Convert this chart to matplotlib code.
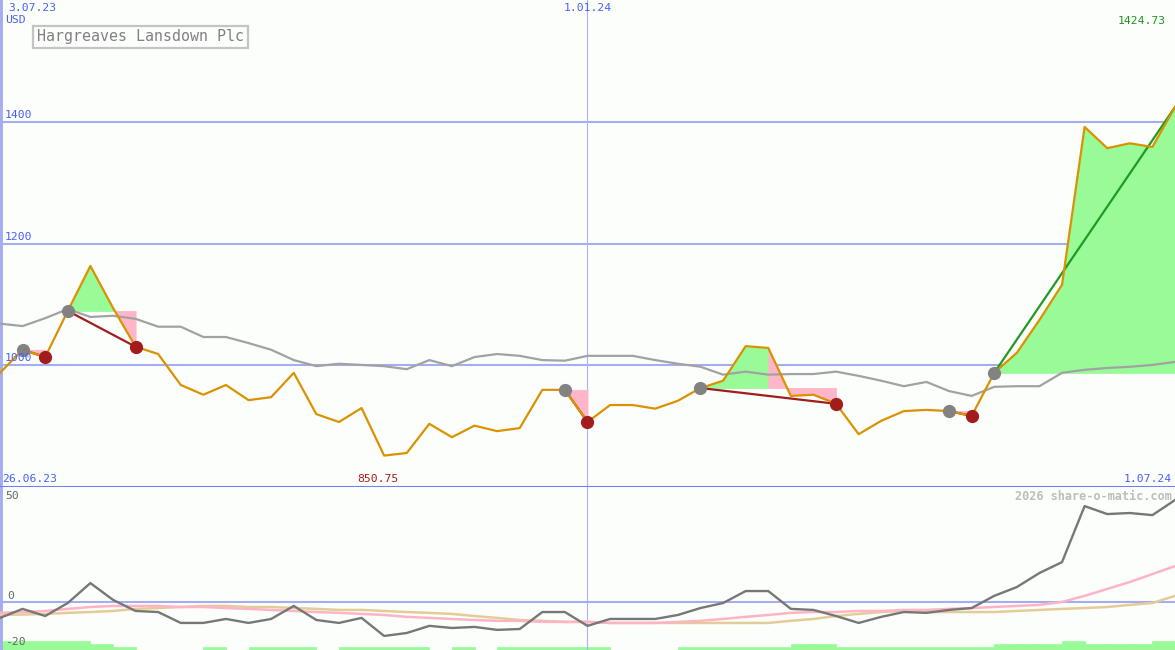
import matplotlib
matplotlib.use('Agg')
import matplotlib.pyplot as plt
import matplotlib.transforms as mtransforms
import pandas as pd

# ---------------- data ----------------
dates = pd.date_range('2023-07-03', periods=53, freq='7D')

price = [987, 1025, 1013, 1089, 1163, 1094, 1030, 1018, 967, 951,
         967, 942, 947, 987, 919, 906, 929, 850.75, 855, 903,
         881, 900, 891, 896, 959, 959, 906, 934, 934, 928,
         941, 962, 974, 1031, 1028, 949, 951, 936, 886, 908,
         924, 926, 924, 916, 987, 1020, 1074, 1132, 1392, 1357,
         1365, 1359, 1424.73]

average = [1068, 1064, 1077, 1092, 1079, 1081, 1076, 1063, 1063, 1046,
           1046, 1036, 1025, 1008, 998, 1002, 1000, 998, 993, 1008,
           998, 1013, 1018, 1015, 1008, 1007, 1015, 1015, 1015, 1008,
           1002, 997, 984, 989, 984, 985, 985, 989, 982, 974,
           965, 972, 957, 949, 964, 965, 965, 987, 992, 995,
           997, 1000, 1005]

momentum = [-7.6, -3.3, -6.7, -0.5, 9.0, 1.0, -4.3, -4.8, -10.0, -10.0,
            -8.1, -10.0, -8.1, -1.9, -8.6, -10.0, -7.6, -16.2, -14.8, -11.4,
            -12.4, -11.9, -13.3, -12.9, -4.8, -4.8, -11.4, -8.1, -8.1, -8.1,
            -6.2, -2.9, -0.5, 5.2, 5.2, -3.3, -3.8, -6.7, -10.0, -7.1,
            -4.8, -5.2, -3.8, -2.9, 2.9, 7.1, 13.8, 19.0, 45.7, 41.9,
            42.4, 41.4, 48.6]

momentum_fast = [-5.2, -4.8, -4.3, -3.3, -2.4, -1.9, -1.9, -1.9, -2.4, -2.4,
                 -2.9, -3.3, -3.8, -4.3, -4.8, -5.2, -5.7, -6.2, -7.1, -7.6,
                 -8.1, -8.6, -9.0, -9.0, -9.5, -9.5, -9.5, -10.0, -10.0, -10.0,
                 -9.5, -9.0, -8.1, -7.1, -6.2, -5.2, -4.8, -4.8, -4.3, -4.3,
                 -3.8, -3.8, -3.3, -2.9, -2.4, -1.9, -1.4, 0.0, 2.9, 6.2,
                 9.5, 13.3, 17.1]

momentum_slow = [-6.2, -6.0, -5.7, -5.2, -4.8, -4.3, -3.3, -2.9, -2.4, -1.9,
                 -1.9, -2.4, -2.4, -2.9, -3.3, -3.8, -3.8, -4.3, -4.8, -5.2,
                 -5.7, -6.7, -7.6, -8.6, -9.0, -9.5, -9.5, -10.0, -10.0, -10.0,
                 -10.0, -10.0, -10.0, -10.0, -10.0, -9.0, -8.1, -6.7, -5.7, -4.8,
                 -4.3, -4.8, -4.8, -4.8, -4.8, -4.3, -3.8, -3.3, -2.9, -2.4,
                 -1.4, -0.5, 2.9]

volume_level = [3, 3, 3, 3, 2, 1, 0, 0, 0, 1, 0, 1, 1, 1, 0, 1, 1, 1, 1, 0,
                1, 0, 1, 1, 1, 1, 1, 0, 0, 0, 1, 1, 1, 1, 1, 2, 2, 1, 1, 1,
                1, 1, 1, 1, 2, 2, 2, 3, 2, 2, 2, 3]

# (entry index, exit index); last one still open
trades = [(1, 2), (3, 6), (25, 26), (31, 37), (42, 43), (44, 52)]
open_trade = (44, 52)

gridlevels = [1000, 1200, 1400]
gridlabels = ['1000', '1200', '1400']
title = 'Hargreaves Lansdown Plc'

# ---------------- style ----------------
BG = '#fcfefc'
GRID = '#a4acf2'
BLUE_TXT = '#4a5ef0'
ORANGE = '#da9200'
GRAYMA = '#a2a2a2'
DOT_GRAY = '#828282'
DARKRED = '#a31c1c'
GREEN_LINE = '#229a22'
GREEN_FILL = '#98fb98'
PINK_FILL = '#ffb6c8'
MONO = 'DejaVu Sans Mono'

fig = plt.figure(figsize=(11.75, 6.5), dpi=100, facecolor=BG)
H = 650.0
ax = fig.add_axes([0, 163 / H, 1, 487 / H])
ax_vol = fig.add_axes([0, 0, 1, 163 / H])
ax_b = fig.add_axes([0, 0, 1, 163 / H])

for a in (ax, ax_vol, ax_b):
    a.set_xlim(dates[0], dates[-1])
    a.set_xticks([])
    a.set_yticks([])
    for s in a.spines.values():
        s.set_visible(False)
ax.set_facecolor(BG)
ax_vol.set_facecolor(BG)
ax_b.patch.set_visible(False)

ax.set_ylim(799, 1601)
ax_b.set_ylim(-22.9, 54.8)
ax_vol.set_ylim(0, 163 / 3.0)

ax.spines['bottom'].set_visible(True)
ax.spines['bottom'].set_color('#6e7ff0')
ax.spines['bottom'].set_linewidth(2.2)
ax.spines['bottom'].set_zorder(10)

# grid / reference lines
for lvl in gridlevels:
    ax.axhline(lvl, color=GRID, lw=1.5, zorder=1)
jan = dates[26]
ax.axvline(jan, color='#a8b4f8', lw=0.8, zorder=1)
ax_b.axvline(jan, color='#a8b4f8', lw=0.8, zorder=1)
ax.axvline(dates[0], color='#a4acf2', lw=3.5, zorder=1)
ax_b.axvline(dates[0], color='#a4acf2', lw=3.5, zorder=1)
ax_b.axhline(0, color=GRID, lw=1.5, zorder=1)

# trade fills
for s, e in trades:
    level = price[s]
    for i in range(s, e):
        col = GREEN_FILL if price[i + 1] >= level else PINK_FILL
        ax.fill_between(dates[i:i + 2], price[i:i + 2], level,
                        facecolor=col, edgecolor=col, lw=0.6, zorder=2)

ax.plot(dates, average, color=GRAYMA, lw=1.6, zorder=3)

for s, e in trades:
    col = GREEN_LINE if price[e] >= price[s] else DARKRED
    ax.plot([dates[s], dates[e]], [price[s], price[e]], color=col,
            lw=1.6, zorder=4)

ax.plot(dates, price, color=ORANGE, lw=1.6, zorder=5)

entries = [s for s, e in trades]
exits = [e for s, e in trades if (s, e) != open_trade]
ax.plot(dates[entries], [price[i] for i in entries], 'o', ms=8.5,
        color=DOT_GRAY, mec=DOT_GRAY, zorder=6)
ax.plot(dates[exits], [price[i] for i in exits], 'o', ms=8.5,
        color=DARKRED, mec=DARKRED, zorder=6)

# texts in main panel
fs = 8.2
yblend = mtransforms.blended_transform_factory(ax.transAxes, ax.transData)
xblend = mtransforms.blended_transform_factory(ax.transData, ax.transAxes)
for lvl, lab in zip(gridlevels, gridlabels):
    ax.text(0.004, lvl + 11, lab, transform=yblend,
            ha='left', va='center', fontsize=fs, color=BLUE_TXT, family=MONO, zorder=7)
ax.text(0.0068, 1 - 8 / 487, dates[0].strftime('%-d.%m.%y'), transform=ax.transAxes,
        ha='left', va='center', fontsize=fs, color=BLUE_TXT, family=MONO)
ax.text(0.0043, 1 - 20 / 487, 'USD', transform=ax.transAxes,
        ha='left', va='center', fontsize=fs, color=BLUE_TXT, family=MONO)
ax.text(jan, 1 - 8 / 487, jan.strftime('%-d.%m.%y'), transform=xblend,
        ha='center', va='center', fontsize=fs, color=BLUE_TXT, family=MONO)
ax.text(0.9925, 1 - 21 / 487, f'{max(price):.2f}', transform=ax.transAxes,
        ha='right', va='center', fontsize=fs, color='#1f921f', family=MONO)
imin = price.index(min(price))
shift = mtransforms.ScaledTranslation(-6 / 100, 0, fig.dpi_scale_trans)
ax.text(dates[imin], 1 - 479 / 487, f'{min(price):.2f}', transform=xblend + shift,
        ha='center', va='center', fontsize=fs, color=DARKRED, family=MONO)
ax.text(0.0015, 1 - 479 / 487, '26.06.23', transform=ax.transAxes,
        ha='left', va='center', fontsize=fs, color=BLUE_TXT, family=MONO)
ax.text(0.9975, 1 - 479 / 487, dates[-1].strftime('%-d.%m.%y'), transform=ax.transAxes,
        ha='right', va='center', fontsize=fs, color=BLUE_TXT, family=MONO)
ax.text(0.0315, 1 - 37 / 487, title, transform=ax.transAxes,
        ha='left', va='center', fontsize=10.8, color='#808080', family=MONO, zorder=8,
        bbox=dict(boxstyle='square,pad=0.25', fc=BG, ec='#c4c4c4', lw=1.6))

# ---------------- lower panel ----------------
ax_vol.bar(dates[:-1], volume_level, width=7, align='edge', color=GREEN_FILL,
           edgecolor=GREEN_FILL, lw=0.5)

ax_b.plot(dates, momentum_slow, color='#e4cc96', lw=1.8, zorder=3)
ax_b.plot(dates, momentum_fast, color='#ffb4c6', lw=1.8, zorder=3)
ax_b.plot(dates, momentum, color='#777777', lw=1.7, zorder=4)

gray_txt = '#666666'
bblend = mtransforms.blended_transform_factory(ax_b.transAxes, ax_b.transData)
ax_b.text(0.0045, 50.7, '50', transform=bblend,
          ha='left', va='center', fontsize=fs, color=gray_txt, family=MONO)
ax_b.text(0.006, 2.9, '0', transform=bblend,
          ha='left', va='center', fontsize=fs, color=gray_txt, family=MONO)
ax_b.text(0.004, -19.0, '-20', transform=bblend,
          ha='left', va='center', fontsize=fs, color=gray_txt, family=MONO)
ax_b.text(0.9975, 1 - 9 / 163, '2026 share-o-matic.com', transform=ax_b.transAxes,
          ha='right', va='center', fontsize=8.6, color='#bdbdbd', family=MONO,
          fontweight='bold')

fig.savefig('out.png', dpi=100, facecolor=BG)
